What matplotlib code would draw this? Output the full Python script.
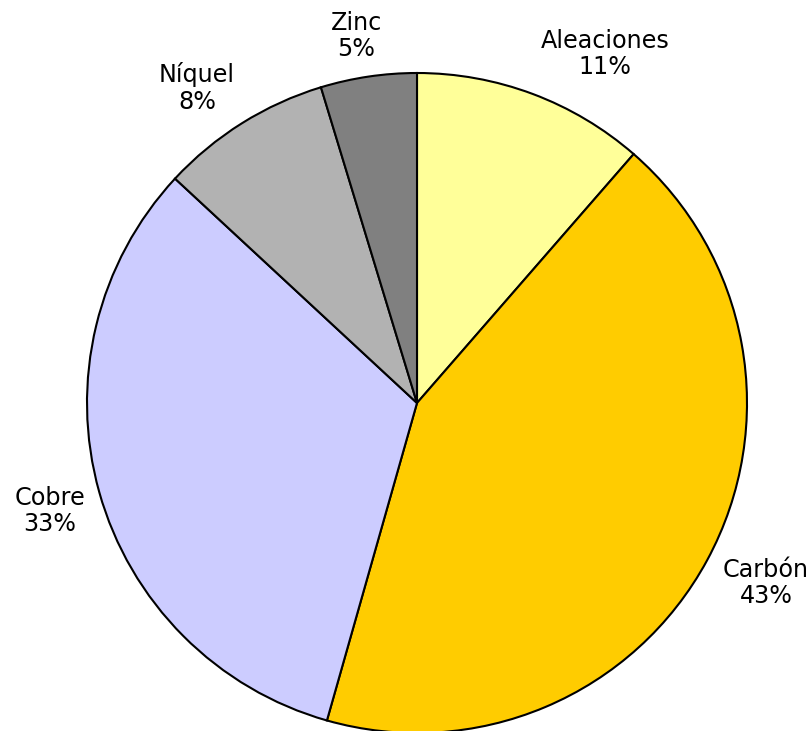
import matplotlib
matplotlib.use("Agg")
import matplotlib.pyplot as plt

# data (percent of total)
categories = ["Aleaciones", "Carbón", "Cobre", "Níquel", "Zinc"]
shares = [11.4, 43.0, 32.5, 8.4, 4.7]
pct_labels = ["11%", "43%", "33%", "8%", "5%"]
colors = ["#FFFF99", "#FFCC00", "#CCCCFF", "#B2B2B2", "#808080"]

# label anchor points in pixel space (x, y from top)
label_pos = [(605, 54), (766, 583), (50, 511), (197, 88), (356, 36)]

W, H = 811, 731
fig = plt.figure(figsize=(W / 100, H / 100), dpi=100)
ax = fig.add_axes([0, 0, 1, 1])
ax.set_xlim(0, W)
ax.set_ylim(0, H)
ax.set_aspect("equal")
ax.axis("off")

ax.pie(shares, colors=colors, startangle=90, counterclock=False,
       radius=330, center=(417, H - 403),
       wedgeprops=dict(edgecolor="black", linewidth=1.5))

for name, pct, (x, y) in zip(categories, pct_labels, label_pos):
    ax.text(x, H - y, f"{name}\n{pct}", ha="center", va="center",
            fontsize=17.2, family="DejaVu Sans", linespacing=1.15)

ax.set_xlim(0, W)
ax.set_ylim(0, H)
fig.savefig("out.png", dpi=100)
